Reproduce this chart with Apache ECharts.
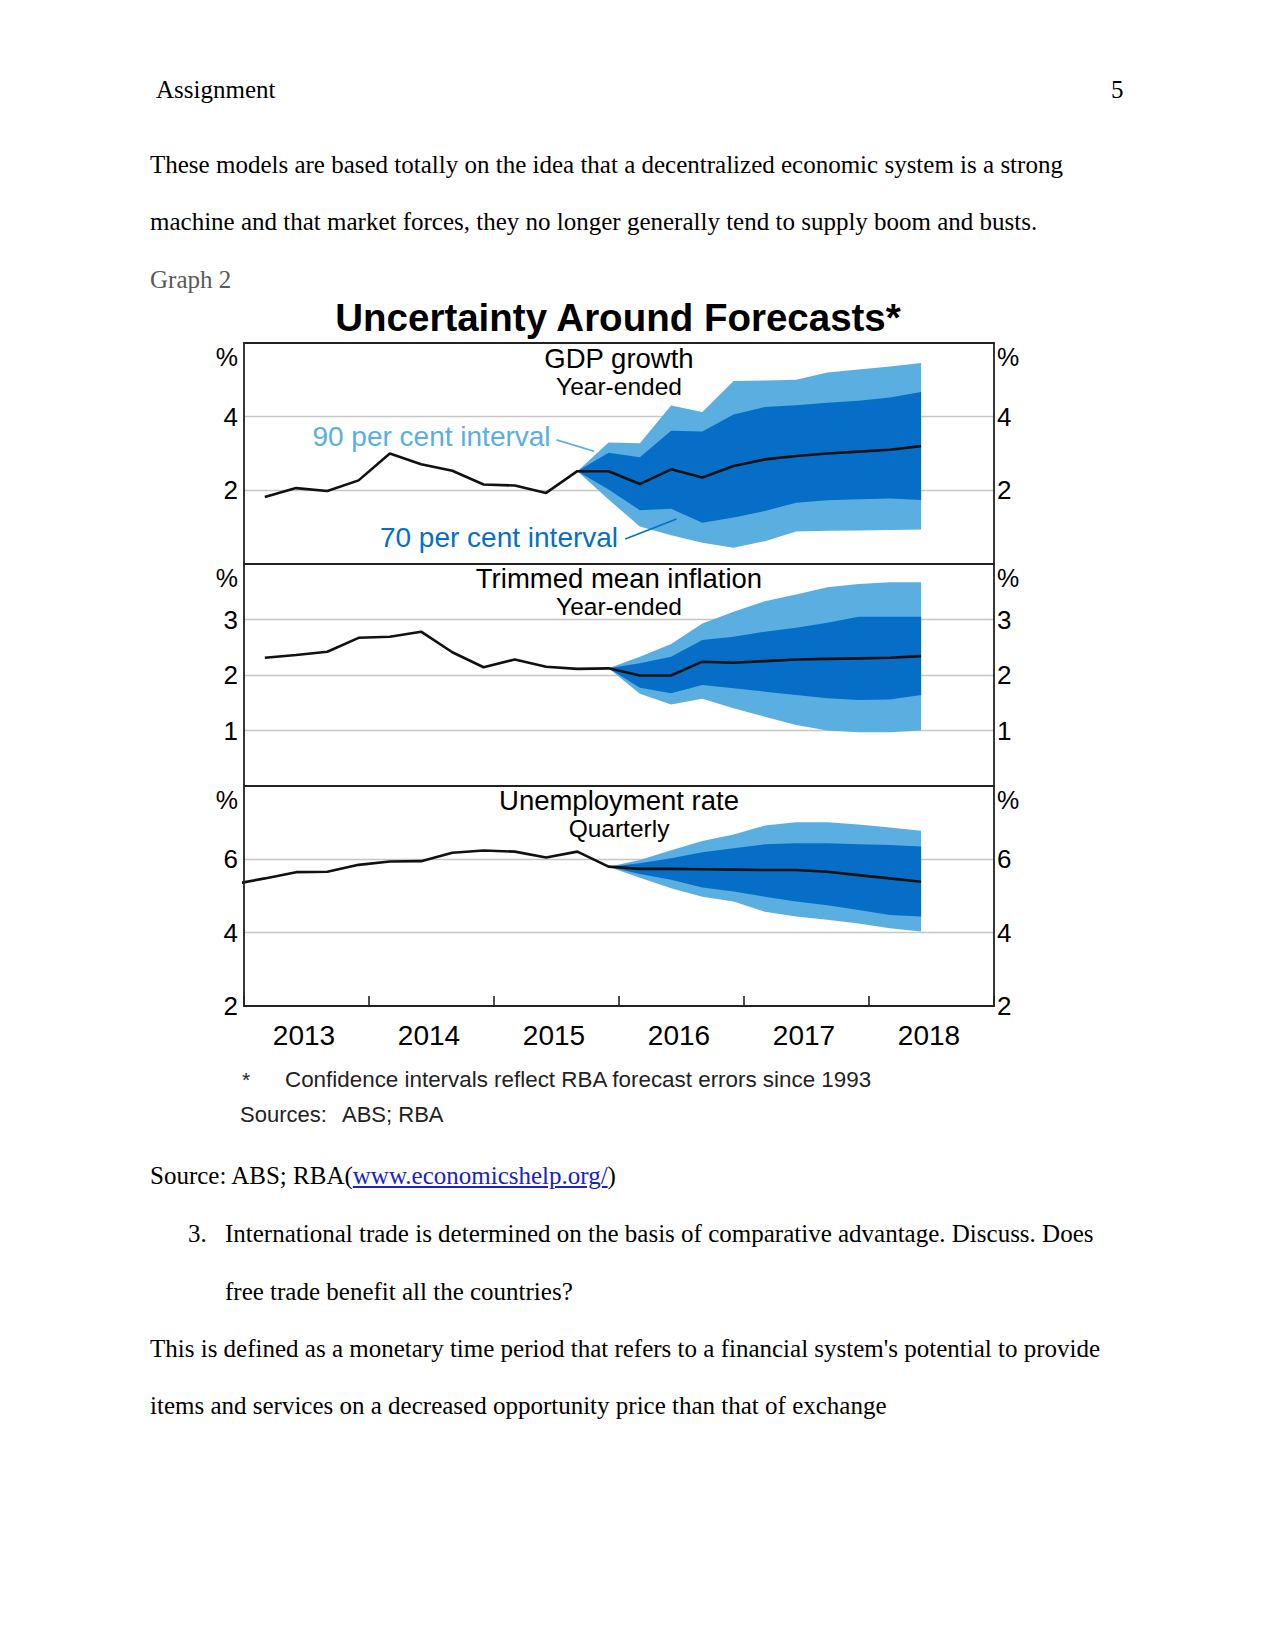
<!DOCTYPE html>
<html>
<head>
<meta charset="utf-8">
<script src="https://cdn.jsdelivr.net/npm/echarts@6/dist/echarts.min.js"></script>
<style>
html,body{margin:0;padding:0;background:#fff;}
body{width:1275px;height:1651px;position:relative;overflow:hidden;}
#chart{position:absolute;left:0;top:0;width:1275px;height:1651px;}
.t{position:absolute;font-family:"Liberation Serif","Times New Roman",serif;font-size:25px;line-height:30px;color:#000;white-space:nowrap;}
.t a{color:#1a22c4;text-decoration:underline;}
</style>
</head>
<body>
<div id="chart"></div>
<div class="t" style="left:156px;top:75px">Assignment</div>
<div class="t" style="left:1111px;top:75px">5</div>
<div class="t" style="left:150px;top:150px">These models are based totally on the idea that a decentralized economic system is a strong</div>
<div class="t" style="left:150px;top:207px">machine and that market forces, they no longer generally tend to supply boom and busts.</div>
<div class="t" style="left:150px;top:265px;color:#595959">Graph 2</div>
<div class="t" style="left:150px;top:1161px">Source: ABS; RBA(<a>www.economicshelp.org/</a>)</div>
<div class="t" style="left:188px;top:1219px">3.</div>
<div class="t" style="left:225px;top:1219px">International trade is determined on the basis of comparative advantage. Discuss. Does</div>
<div class="t" style="left:225px;top:1277px">free trade benefit all the countries?</div>
<div class="t" style="left:150px;top:1334px">This is defined as a monetary time period that refers to a financial system's potential to provide</div>
<div class="t" style="left:150px;top:1391px">items and services on a decreased opportunity price than that of exchange</div>
<script>
// ---------------- DATA ----------------
const years = ['2013', '2014', '2015', '2016', '2017', '2018'];

// GDP growth, year-ended (%)
const gdpActualDates = ['2013-03','2013-06','2013-09','2013-12','2014-03','2014-06','2014-09','2014-12','2015-03','2015-06','2015-09'];
const gdpActual      = [1.82, 2.06, 1.98, 2.27, 3.00, 2.71, 2.53, 2.16, 2.13, 1.93, 2.52];
const gdpFcDates     = ['2015-09','2015-12','2016-03','2016-06','2016-09','2016-12','2017-03','2017-06','2017-09','2017-12','2018-03','2018-06'];
const gdpCentral     = [2.52, 2.52, 2.17, 2.57, 2.35, 2.66, 2.84, 2.93, 3.00, 3.05, 3.10, 3.20];
const gdp70High      = [2.52, 3.02, 2.90, 3.62, 3.60, 4.06, 4.26, 4.31, 4.38, 4.43, 4.52, 4.67];
const gdp70Low       = [2.52, 2.02, 1.46, 1.50, 1.12, 1.26, 1.44, 1.66, 1.73, 1.76, 1.78, 1.74];
const gdp90High      = [2.52, 3.30, 3.28, 4.30, 4.13, 4.97, 4.98, 5.00, 5.20, 5.28, 5.36, 5.46];
const gdp90Low       = [2.52, 1.75, 1.02, 0.78, 0.58, 0.44, 0.62, 0.88, 0.90, 0.91, 0.92, 0.94];

// Trimmed mean inflation, year-ended (%)
const infActualDates = ['2013-03','2013-06','2013-09','2013-12','2014-03','2014-06','2014-09','2014-12','2015-03','2015-06','2015-09','2015-12'];
const infActual      = [2.31, 2.36, 2.42, 2.67, 2.69, 2.78, 2.41, 2.14, 2.28, 2.15, 2.11, 2.12];
const infFcDates     = ['2015-12','2016-03','2016-06','2016-09','2016-12','2017-03','2017-06','2017-09','2017-12','2018-03','2018-06'];
const infCentral     = [2.12, 1.99, 1.99, 2.24, 2.22, 2.25, 2.28, 2.29, 2.30, 2.31, 2.34];
const inf70High      = [2.12, 2.21, 2.33, 2.63, 2.69, 2.78, 2.85, 2.94, 3.05, 3.05, 3.05];
const inf70Low       = [2.12, 1.77, 1.67, 1.82, 1.76, 1.70, 1.64, 1.58, 1.55, 1.56, 1.64];
const inf90High      = [2.12, 2.33, 2.56, 2.93, 3.14, 3.33, 3.45, 3.58, 3.64, 3.67, 3.67];
const inf90Low       = [2.12, 1.66, 1.47, 1.57, 1.40, 1.25, 1.10, 1.00, 0.97, 0.97, 1.00];

// Unemployment rate, quarterly (%)
const unActualDates  = ['2012-12','2013-03','2013-06','2013-09','2013-12','2014-03','2014-06','2014-09','2014-12','2015-03','2015-06','2015-09','2015-12'];
const unActual       = [5.32, 5.48, 5.65, 5.66, 5.85, 5.94, 5.95, 6.18, 6.24, 6.21, 6.05, 6.21, 5.80];
const unFcDates      = ['2015-12','2016-03','2016-06','2016-09','2016-12','2017-03','2017-06','2017-09','2017-12','2018-03','2018-06'];
const unCentral      = [5.80, 5.74, 5.74, 5.73, 5.72, 5.71, 5.71, 5.66, 5.57, 5.48, 5.39];
const un70High       = [5.80, 5.89, 6.03, 6.19, 6.30, 6.41, 6.44, 6.44, 6.41, 6.39, 6.35];
const un70Low        = [5.80, 5.60, 5.44, 5.23, 5.12, 4.98, 4.85, 4.75, 4.62, 4.48, 4.44];
const un90High       = [5.80, 5.98, 6.25, 6.50, 6.68, 6.92, 7.01, 7.01, 6.95, 6.87, 6.78];
const un90Low        = [5.80, 5.50, 5.21, 4.98, 4.85, 4.57, 4.44, 4.35, 4.25, 4.12, 4.03];

// Annotation anchors (data units of the GDP panel)
const label90 = [2014.50, 3.45];
const arrow90 = [[2015.50, 3.37], [2015.80, 3.06]];
const label70 = [2015.04, 0.73];
const arrow70 = [[2016.05, 0.68], [2016.46, 1.22]];

// ---------------- STYLE ----------------
const SANS = '"Liberation Sans", Arial, Helvetica, sans-serif';
const LIGHT = '#5aafe0';
const DARK = '#066ec6';
const LINE = '#111111';
const GRIDLINE = '#c6c6c6';
const BORDER = '#222222';

function toYear(d) {
  const p = d.split('-');
  return Number(p[0]) + (Number(p[1]) - 1) / 12;
}
function pairs(dates, vals) { return dates.map((d, i) => [toYear(d), vals[i]]); }

function band(idx, dates, lo, hi, color, z) {
  const data = dates.map((d, i) => [toYear(d), lo[i], hi[i]]);
  return {
    type: 'custom', xAxisIndex: idx, yAxisIndex: idx, z: z, silent: true,
    data: data, encode: { x: 0, y: [1, 2] },
    renderItem: function (params, api) {
      if (params.dataIndex !== 0) return null;
      const up = [], dn = [];
      for (let i = 0; i < data.length; i++) {
        up.push(api.coord([data[i][0], data[i][2]]));
        dn.push(api.coord([data[i][0], data[i][1]]));
      }
      return { type: 'polygon', shape: { points: up.concat(dn.reverse()) }, style: { fill: color } };
    }
  };
}
function mainLine(idx, aDates, aVals, fDates, fVals, extra) {
  const data = pairs(aDates, aVals).concat(pairs(fDates, fVals).slice(1));
  return Object.assign({
    type: 'line', xAxisIndex: idx, yAxisIndex: idx, data: data, symbol: 'none', z: 6,
    lineStyle: { color: LINE, width: 2.6 }, clip: true, silent: true
  }, extra || {});
}

const panels = [
  { top: 343, height: 221, min: 0, max: 6, interval: 2, hideMin: true },
  { top: 564, height: 222, min: 0, max: 4, interval: 1, hideMin: true },
  { top: 786, height: 220, min: 2, max: 8, interval: 2, hideMin: false }
];

function yAxis(i, pos) {
  const p = panels[i];
  return {
    type: 'value', gridIndex: i, min: p.min, max: p.max, interval: p.interval, position: pos,
    axisLine: { show: false }, axisTick: { show: false },
    splitLine: { show: pos === 'left', showMinLine: false, showMaxLine: false, lineStyle: { color: GRIDLINE, width: 1.3 } },
    axisLabel: {
      margin: pos === 'left' ? 6 : 3, fontSize: 26, color: '#000', fontFamily: SANS,
      align: pos === 'left' ? 'right' : 'left',
      formatter: function (v) {
        if (v === p.max) return '{p|%}';
        if (v === p.min && p.hideMin) return '';
        return String(v);
      },
      rich: { p: { padding: [28, 0, 0, 0], fontSize: 25, color: '#000', fontFamily: SANS } }
    }
  };
}

const chart = echarts.init(document.getElementById('chart'), null, { renderer: 'svg', width: 1275, height: 1651 });

const grids = panels.map(p => ({ left: 244, top: p.top, width: 750, height: p.height, show: true, borderColor: BORDER, borderWidth: 1.8, backgroundColor: 'transparent', z: 8 }));

const xAxes = [0, 1, 2].map(i => ({
  type: 'value', gridIndex: i, min: 2013, max: 2019, interval: 1,
  axisLine: { show: false }, axisLabel: { show: false }, splitLine: { show: false },
  axisTick: { show: i === 2, inside: true, length: 10, lineStyle: { color: BORDER, width: 1.6 } }
}));
xAxes.push({
  type: 'value', gridIndex: 2, min: 0, max: 12, interval: 1, position: 'bottom',
  axisLine: { show: false }, axisTick: { show: false }, splitLine: { show: false },
  axisLabel: {
    margin: 15, fontSize: 28, color: '#000', fontFamily: SANS, padding: [0, 5, 0, 0],
    formatter: function (v) { return (v % 2 === 1) ? years[(v - 1) / 2] : ''; }
  }
});

const yAxes = [yAxis(0, 'left'), yAxis(1, 'left'), yAxis(2, 'left'), yAxis(0, 'right'), yAxis(1, 'right'), yAxis(2, 'right')];

function txt(x, y, s, font, color, align) {
  return { type: 'text', x: x, y: y, silent: true, z: 20,
    style: { text: s, font: font, fill: color || '#000', textAlign: align || 'center', align: align || 'center', textVerticalAlign: 'middle', verticalAlign: 'middle' } };
}

const series = [
  band(0, gdpFcDates, gdp90Low, gdp90High, LIGHT, 2),
  band(0, gdpFcDates, gdp70Low, gdp70High, DARK, 3),
  mainLine(0, gdpActualDates, gdpActual, gdpFcDates, gdpCentral, {
    markLine: {
      silent: true, animation: false, symbol: ['none', 'arrow'], symbolSize: [0, 11],
      label: { show: false },
      data: [
        [{ coord: arrow90[0], lineStyle: { color: LIGHT, width: 1.6, type: 'solid' } }, { coord: arrow90[1] }],
        [{ coord: arrow70[0], lineStyle: { color: DARK, width: 1.6, type: 'solid' } }, { coord: arrow70[1] }]
      ]
    },
    markPoint: {
      silent: true, animation: false, symbol: 'circle', symbolSize: 1,
      itemStyle: { color: 'rgba(0,0,0,0)' },
      data: [
        { coord: label90, label: { show: true, position: 'inside', formatter: '90 per cent interval', color: LIGHT, fontSize: 28, fontFamily: SANS } },
        { coord: label70, label: { show: true, position: 'inside', formatter: '70 per cent interval', color: DARK, fontSize: 28, fontFamily: SANS } }
      ]
    }
  }),
  band(1, infFcDates, inf90Low, inf90High, LIGHT, 2),
  band(1, infFcDates, inf70Low, inf70High, DARK, 3),
  mainLine(1, infActualDates, infActual, infFcDates, infCentral),
  band(2, unFcDates, un90Low, un90High, LIGHT, 2),
  band(2, unFcDates, un70Low, un70High, DARK, 3),
  mainLine(2, unActualDates, unActual, unFcDates, unCentral)
];

chart.setOption({
  animation: false,
  backgroundColor: 'transparent',
  grid: grids,
  xAxis: xAxes,
  yAxis: yAxes,
  series: series,
  graphic: [
    txt(618, 317, 'Uncertainty Around Forecasts*', 'bold 38.5px ' + SANS),
    txt(619, 358, 'GDP growth', '27.5px ' + SANS),
    txt(619, 386, 'Year-ended', '24.5px ' + SANS),
    txt(619, 578, 'Trimmed mean inflation', '27.5px ' + SANS),
    txt(619, 606, 'Year-ended', '24.5px ' + SANS),
    txt(619, 800, 'Unemployment rate', '27.5px ' + SANS),
    txt(619, 828, 'Quarterly', '24.5px ' + SANS),
    txt(242, 1079, '*', '21px ' + SANS, '#222', 'left'),
    txt(285, 1079, 'Confidence intervals reflect RBA forecast errors since 1993', '22.4px ' + SANS, '#222', 'left'),
    txt(240, 1114, 'Sources:', '22px ' + SANS, '#222', 'left'),
    txt(342, 1114, 'ABS; RBA', '22px ' + SANS, '#222', 'left')
  ]
});
</script>
</body>
</html>
